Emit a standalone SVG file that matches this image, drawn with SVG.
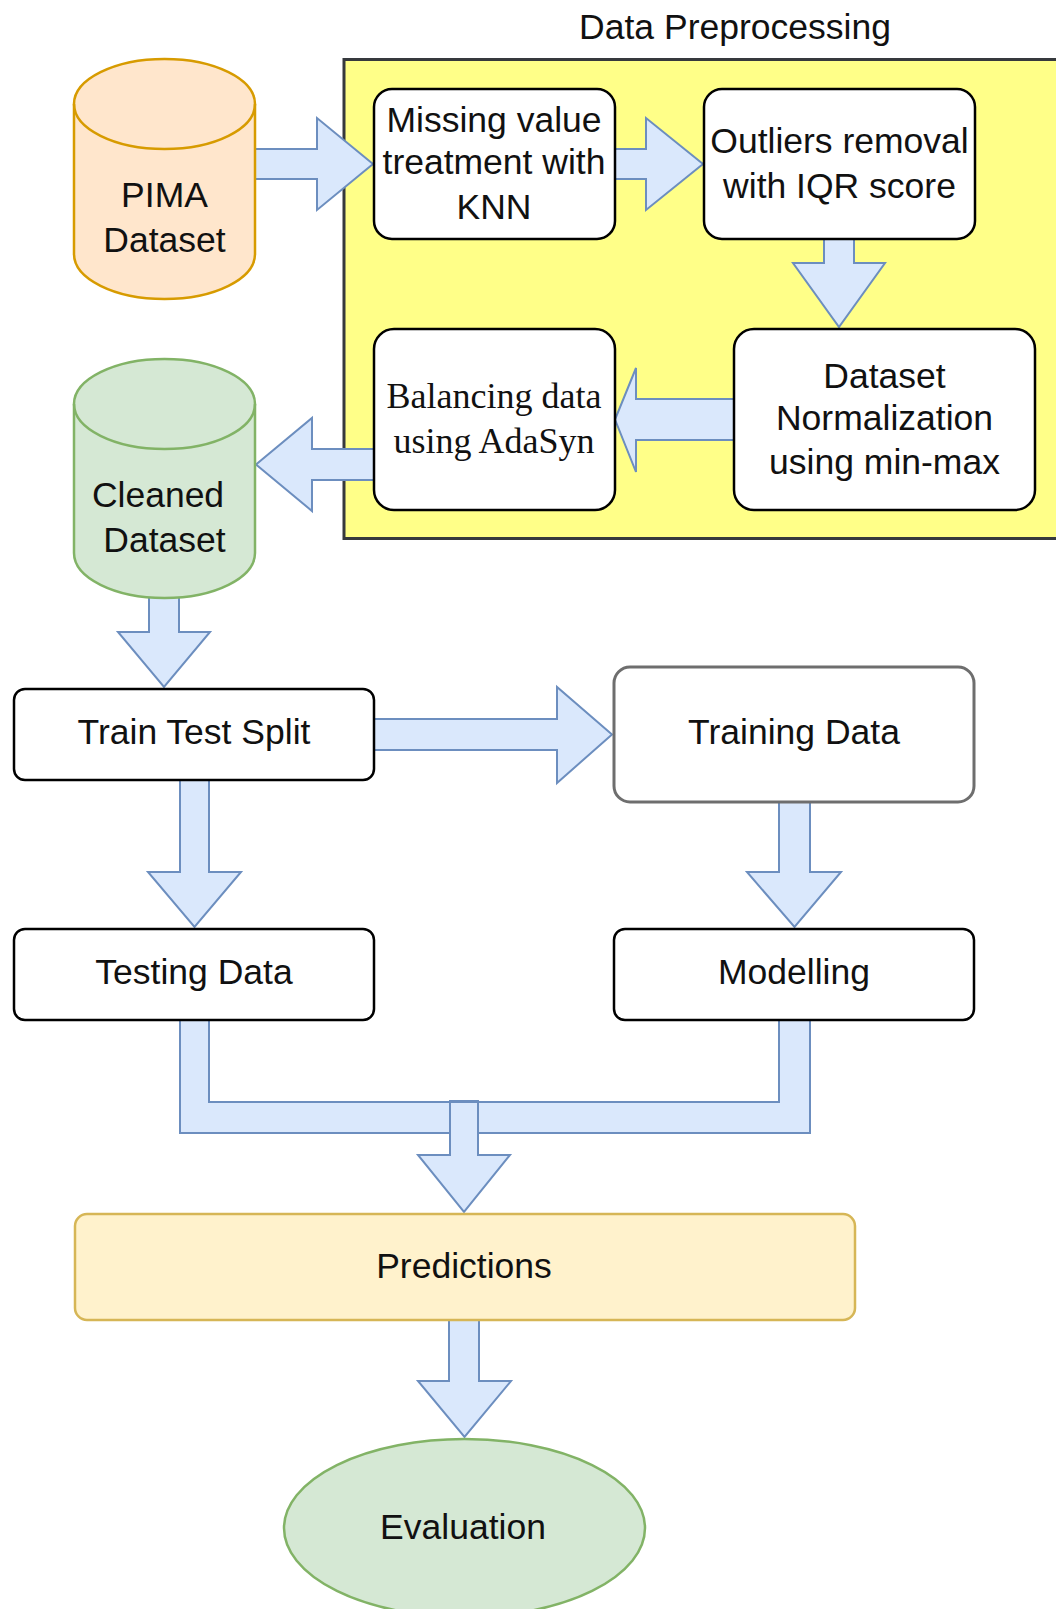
<svg xmlns="http://www.w3.org/2000/svg" width="1056" height="1609" viewBox="0 0 1056 1609">
  <style>
    .lbl { font-family: "Liberation Sans", Arial, sans-serif; font-size: 35.5px; fill: #111; text-anchor: middle; }
    .serif { font-family: "Liberation Serif", "Times New Roman", serif; font-size: 36px; fill: #111; text-anchor: middle; }
    .box { fill: #ffffff; stroke: #000000; stroke-width: 2.5; }
    .arrow { fill: #dae8fc; stroke: #6c8ebf; stroke-width: 2; stroke-linejoin: miter; }
    .arrow-line { fill: none; stroke: #6c8ebf; stroke-width: 2; }
  </style>

  <rect width="1056" height="1609" fill="#ffffff"/>

  <!-- preprocessing container -->
  <g id="preprocessing">
    <rect x="344" y="59.5" width="716" height="479" fill="#ffff88" stroke="#36393d" stroke-width="3"/>
    <text class="lbl" x="735" y="39">Data Preprocessing</text>
  </g>

  <!-- connectors (block arrows) -->
  <g id="connectors">
    <!-- PIMA -> missing value -->
    <path class="arrow" d="M255,149 L317,149 L317,118 L373,164 L317,210 L317,179 L255,179"/>
    <!-- missing value -> outliers -->
    <path class="arrow" d="M615,149 L646,149 L646,118 L703,164 L646,210 L646,179 L615,179"/>
    <!-- outliers -> normalization -->
    <path class="arrow" d="M824,239 L824,263 L793,263 L839,327 L885,263 L854,263 L854,239"/>
    <!-- normalization -> balancing -->
    <path class="arrow" d="M734,399 L636,399 L636,368 L615,419.5 L636,472 L636,440 L734,440"/>
    <!-- balancing -> cleaned dataset -->
    <path class="arrow" d="M374,449 L312,449 L312,418 L256,464.5 L312,511 L312,480 L374,480"/>
    <!-- cleaned dataset -> train test split -->
    <path class="arrow" d="M149,598 L149,632 L118,632 L164,687 L210,632 L179,632 L179,598"/>
    <!-- train test split -> training data -->
    <path class="arrow" d="M374,719 L557,719 L557,687 L612,734.5 L557,783 L557,750 L374,750"/>
    <!-- train test split -> testing data -->
    <path class="arrow" d="M180,780 L180,872 L148,872 L194.5,927 L241,872 L209,872 L209,780"/>
    <!-- training data -> modelling -->
    <path class="arrow" d="M779,802 L779,872 L747,872 L794.5,927 L841,872 L810,872 L810,802"/>
    <!-- testing data + modelling -> predictions -->
    <path class="arrow" d="M180,1020 L180,1133 L450,1133 L450,1155 L418,1155 L464,1212 L510,1155 L478,1155 L478,1133 L810,1133 L810,1020 M779,1020 L779,1102 L209,1102 L209,1020"/>
    <path class="arrow-line" d="M450,1133 L450,1101 L478,1101 L478,1133"/>
    <!-- predictions -> evaluation -->
    <path class="arrow" d="M449,1320 L449,1381 L418,1381 L464.5,1437 L511,1381 L479,1381 L479,1320"/>
  </g>

  <!-- PIMA dataset (cylinder) -->
  <g id="pima-dataset">
    <path d="M74,104 A90.5,45 0 0 1 255,104 L255,254 A90.5,45 0 0 1 74,254 Z" fill="#ffe6cc" stroke="#d79b00" stroke-width="2.5"/>
    <path d="M74,104 A90.5,45 0 0 0 255,104" fill="none" stroke="#d79b00" stroke-width="2.5"/>
    <text class="lbl" x="164.5" y="207">PIMA</text>
    <text class="lbl" x="164.5" y="252">Dataset</text>
  </g>

  <!-- missing value treatment -->
  <g id="missing-value">
    <rect class="box" x="374" y="89" width="241" height="150" rx="18"/>
    <text class="lbl" x="494" y="132">Missing value</text>
    <text class="lbl" x="494" y="174">treatment with</text>
    <text class="lbl" x="494" y="219">KNN</text>
  </g>

  <!-- outliers removal -->
  <g id="outliers">
    <rect class="box" x="704" y="89" width="271" height="150" rx="18"/>
    <text class="lbl" x="839.5" y="153">Outliers removal</text>
    <text class="lbl" x="839.5" y="198">with IQR score</text>
  </g>

  <!-- normalization -->
  <g id="normalization">
    <rect class="box" x="734" y="329" width="301" height="181" rx="20"/>
    <text class="lbl" x="884.5" y="388">Dataset</text>
    <text class="lbl" x="884.5" y="430">Normalization</text>
    <text class="lbl" x="884.5" y="474">using min-max</text>
  </g>

  <!-- balancing -->
  <g id="balancing">
    <rect class="box" x="374" y="329" width="241" height="181" rx="20"/>
    <text class="serif" x="494" y="408">Balancing data</text>
    <text class="serif" x="494" y="453">using AdaSyn</text>
  </g>

  <!-- cleaned dataset (cylinder) -->
  <g id="cleaned-dataset">
    <path d="M74,404 A90.5,45 0 0 1 255,404 L255,553 A90.5,45 0 0 1 74,553 Z" fill="#d5e8d4" stroke="#82b366" stroke-width="2.5"/>
    <path d="M74,404 A90.5,45 0 0 0 255,404" fill="none" stroke="#82b366" stroke-width="2.5"/>
    <text class="lbl" x="158" y="507">Cleaned</text>
    <text class="lbl" x="164.5" y="552">Dataset</text>
  </g>

  <!-- train test split -->
  <g id="train-test-split">
    <rect class="box" x="14" y="689" width="360" height="91" rx="11"/>
    <text class="lbl" x="194" y="744">Train Test Split</text>
  </g>

  <!-- training data -->
  <g id="training-data">
    <rect x="614" y="667" width="360" height="135" rx="16" fill="#ffffff" stroke="#6e6e6e" stroke-width="3"/>
    <text class="lbl" x="794" y="744">Training Data</text>
  </g>

  <!-- testing data -->
  <g id="testing-data">
    <rect class="box" x="14" y="929" width="360" height="91" rx="11"/>
    <text class="lbl" x="194" y="984">Testing Data</text>
  </g>

  <!-- modelling -->
  <g id="modelling">
    <rect class="box" x="614" y="929" width="360" height="91" rx="11"/>
    <text class="lbl" x="794" y="984">Modelling</text>
  </g>

  <!-- predictions -->
  <g id="predictions">
    <rect x="75" y="1214" width="780" height="106" rx="12" fill="#fff2cc" stroke="#d6b656" stroke-width="2.5"/>
    <text class="lbl" x="464" y="1278">Predictions</text>
  </g>

  <!-- evaluation -->
  <g id="evaluation">
    <ellipse cx="464.5" cy="1528" rx="180.5" ry="89" fill="#d5e8d4" stroke="#82b366" stroke-width="2.5"/>
    <text class="lbl" x="463" y="1539">Evaluation</text>
  </g>
</svg>
